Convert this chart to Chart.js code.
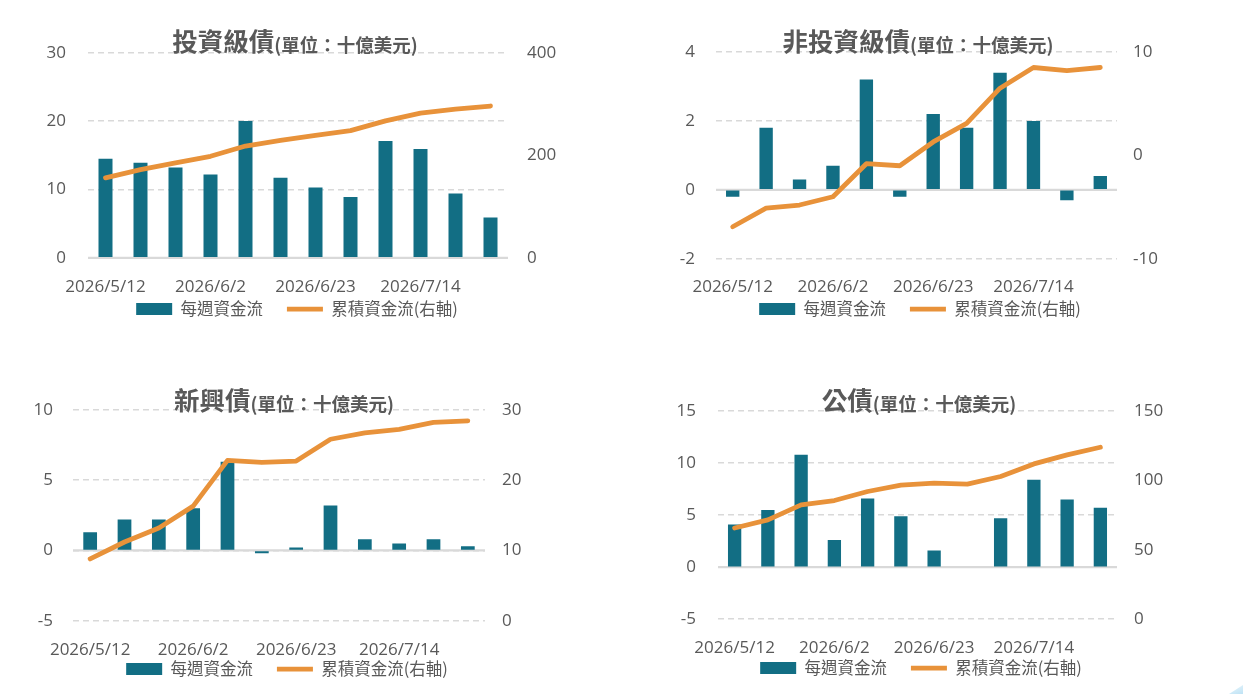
<!DOCTYPE html>
<html>
<head>
<meta charset="utf-8">
<script src="https://cdn.jsdelivr.net/npm/chart.js@4/dist/chart.umd.min.js"></script>
<style>
  html, body { margin: 0; padding: 0; background: #fff; }
  #page { position: relative; width: 1243px; height: 694px; overflow: hidden; }
  canvas { position: absolute; }
  #corner { position: absolute; right: 0; bottom: 0; width: 14px; height: 9px;
            background: linear-gradient(160deg, #eaf6fc, #bfe3f5); clip-path: polygon(100% 0, 100% 100%, 0 100%); }
</style>
</head>
<body>
<div id="page">
  <canvas id="cIG" width="594" height="330" style="left:0px;top:0px"></canvas>
  <canvas id="cHY" width="600" height="330" style="left:620px;top:0px"></canvas>
  <canvas id="cEM" width="574" height="334" style="left:0px;top:360px"></canvas>
  <canvas id="cGOV" width="598" height="334" style="left:622px;top:360px"></canvas>
  <div id="corner"></div>
</div>
<script>
// 週資料日期（每週二）
const weeks = ['2026/5/12', '2026/5/19', '2026/5/26', '2026/6/2', '2026/6/9', '2026/6/16',
               '2026/6/23', '2026/6/30', '2026/7/7', '2026/7/14', '2026/7/21', '2026/7/28'];
const seriesNames = ['每週資金流', '累積資金流(右軸)'];

// 投資級債
const igWeekly = [14.5, 13.9, 13.2, 12.2, 20.0, 11.7, 10.3, 8.9, 17.1, 15.9, 9.4, 5.9];
const igCum = [156, 172, 185, 198, 218, 229, 239, 248, 267, 282, 290, 296];
// 非投資級債
const hyWeekly = [-0.2, 1.8, 0.3, 0.7, 3.2, -0.2, 2.2, 1.8, 3.4, 2.0, -0.3, 0.4];
const hyCum = [-6.9, -5.1, -4.8, -4.0, -0.8, -1.0, 1.3, 3.1, 6.5, 8.5, 8.2, 8.5];
// 新興債
const emWeekly = [1.3, 2.2, 2.2, 3.0, 6.3, -0.2, 0.2, 3.2, 0.8, 0.5, 0.8, 0.3];
const emCum = [8.8, 11.2, 13.2, 16.3, 22.8, 22.5, 22.7, 25.8, 26.7, 27.2, 28.2, 28.4];
// 公債
const govWeekly = [4.1, 5.5, 10.8, 2.6, 6.6, 4.9, 1.6, 0, 4.7, 8.4, 6.5, 5.7];
const govCum = [65.7, 71.6, 82.4, 85.5, 92.0, 96.6, 98.0, 97.3, 102.8, 111.9, 118.4, 123.9];

const BAR_COLOR = '#126e84';
const LINE_COLOR = '#e8923a';
const TEXT_COLOR = '#595959';
const GRID_COLOR = '#d9d9d9';
const TICK_FONT = { family: "'Open Sans', 'Noto Sans CJK TC', sans-serif", size: 17 };
const CJK = "'Noto Sans CJK TC', sans-serif";

// 標題：大字 + 小字，畫在圖上
const panelTitle = {
  id: 'panelTitle',
  afterDraw(chart, args, opts) {
    const ctx = chart.ctx;
    ctx.save();
    ctx.fillStyle = TEXT_COLOR;
    ctx.textBaseline = 'ideographic';
    const bigFont = 'bold 25.5px ' + CJK;
    const smallFont = 'bold 18.5px ' + CJK;
    ctx.font = bigFont;
    const w1 = ctx.measureText(opts.main).width;
    ctx.font = smallFont;
    const w2 = ctx.measureText(opts.sub).width;
    const x = opts.cx - (w1 + w2) / 2;
    ctx.textAlign = 'left';
    ctx.font = bigFont;
    ctx.fillText(opts.main, x, opts.cy);
    ctx.font = smallFont;
    ctx.fillText(opts.sub, x + w1, opts.cy);
    ctx.restore();
  }
};

// 零軸實線；x 軸日期不要被裁在軸框內（圖例緊貼在下方）
const zeroLine = {
  id: 'zeroLine',
  afterLayout(chart) {
    chart.scales.x._computeLabelArea = () => undefined;
  },
  beforeDatasetsDraw(chart) {
    const y = chart.scales.y.getPixelForValue(0);
    const a = chart.chartArea;
    const ctx = chart.ctx;
    ctx.save();
    ctx.strokeStyle = GRID_COLOR;
    ctx.lineWidth = 2.2;
    ctx.beginPath();
    ctx.moveTo(a.left, y);
    ctx.lineTo(a.right, y);
    ctx.stroke();
    ctx.restore();
  }
};

function makeChart(id, cfg) {
  const ctx = document.getElementById(id).getContext('2d');
  return new Chart(ctx, {
    type: 'bar',
    data: {
      labels: weeks,
      datasets: [
        {
          type: 'line',
          label: seriesNames[1],
          data: cfg.cum,
          yAxisID: 'y1',
          borderColor: LINE_COLOR,
          backgroundColor: LINE_COLOR,
          borderWidth: 4.8,
          borderCapStyle: 'round',
          borderJoinStyle: 'round',
          pointRadius: 0,
          pointStyle: 'line',
          tension: 0,
          order: 0
        },
        {
          label: seriesNames[0],
          data: cfg.weekly,
          yAxisID: 'y',
          backgroundColor: BAR_COLOR,
          barPercentage: 0.4,
          categoryPercentage: 1,
          pointStyle: 'rect',
          order: 1
        }
      ]
    },
    options: {
      responsive: false,
      animation: false,
      layout: { padding: { top: cfg.padTop, bottom: cfg.padBottom, left: 0, right: 0 } },
      plugins: {
        legend: {
          position: 'bottom',
          reverse: true,
          labels: {
            usePointStyle: true,
            pointStyleWidth: 36,
            boxHeight: 12,
            padding: 24,
            color: TEXT_COLOR,
            font: { family: CJK, size: 16.5 }
          }
        },
        tooltip: { enabled: false },
        panelTitle: { main: cfg.main, sub: '(單位：十億美元)', cx: cfg.titleX, cy: cfg.titleY }
      },
      scales: {
        x: {
          grid: { display: false },
          border: { display: false },
          ticks: {
            autoSkip: false,
            maxRotation: 0,
            padding: cfg.xPad,
            color: TEXT_COLOR,
            font: TICK_FONT,
            callback: (v, i) => (i % 3 === 0 ? weeks[i] : '')
          },
          afterFit: s => { s.height = cfg.xH; }
        },
        y: {
          position: 'left',
          min: cfg.left[0], max: cfg.left[1],
          ticks: { stepSize: cfg.left[2], padding: cfg.lPad, color: TEXT_COLOR, font: TICK_FONT },
          grid: { color: GRID_COLOR, lineWidth: 1.5, drawTicks: false },
          border: { display: false, dash: [6, 4] },
          afterFit: s => { s.width = cfg.lW; }
        },
        y1: {
          position: 'right',
          min: cfg.right[0], max: cfg.right[1],
          ticks: { stepSize: cfg.right[2], padding: cfg.rPad, color: TEXT_COLOR, font: TICK_FONT },
          grid: { display: false, drawTicks: false },
          border: { display: false },
          afterFit: s => { s.width = cfg.rW; }
        }
      }
    },
    plugins: [zeroLine, panelTitle]
  });
}

makeChart('cIG', {
  main: '投資級債', weekly: igWeekly, cum: igCum,
  left: [0, 30, 10], right: [0, 400, 200],
  padTop: 52.7, padBottom: 2.7, xH: 19, xPad: 11,
  lW: 88, rW: 86, lPad: 22, rPad: 19,
  titleX: 295, titleY: 54.5
});
makeChart('cHY', {
  main: '非投資級債', weekly: hyWeekly, cum: hyCum,
  left: [-2, 4, 2], right: [-10, 10, 10],
  padTop: 52, padBottom: 2.7, xH: 18, xPad: 10.2,
  lW: 96, rW: 103, lPad: 21, rPad: 16,
  titleX: 918 - 620, titleY: 54
});
makeChart('cEM', {
  main: '新興債', weekly: emWeekly, cum: emCum,
  left: [-5, 10, 5], right: [0, 30, 10],
  padTop: 49.7, padBottom: 6.7, xH: 16, xPad: 11.5,
  lW: 73, rW: 89, lPad: 20, rPad: 17,
  titleX: 284, titleY: 413.5 - 360
});
makeChart('cGOV', {
  main: '公債', weekly: govWeekly, cum: govCum,
  left: [-5, 15, 5], right: [0, 150, 50],
  padTop: 51, padBottom: 7.7, xH: 16.6, xPad: 10.5,
  lW: 96, rW: 103, lPad: 22, rPad: 17,
  titleX: 919 - 622, titleY: 413.5 - 360
});
</script>
</body>
</html>
